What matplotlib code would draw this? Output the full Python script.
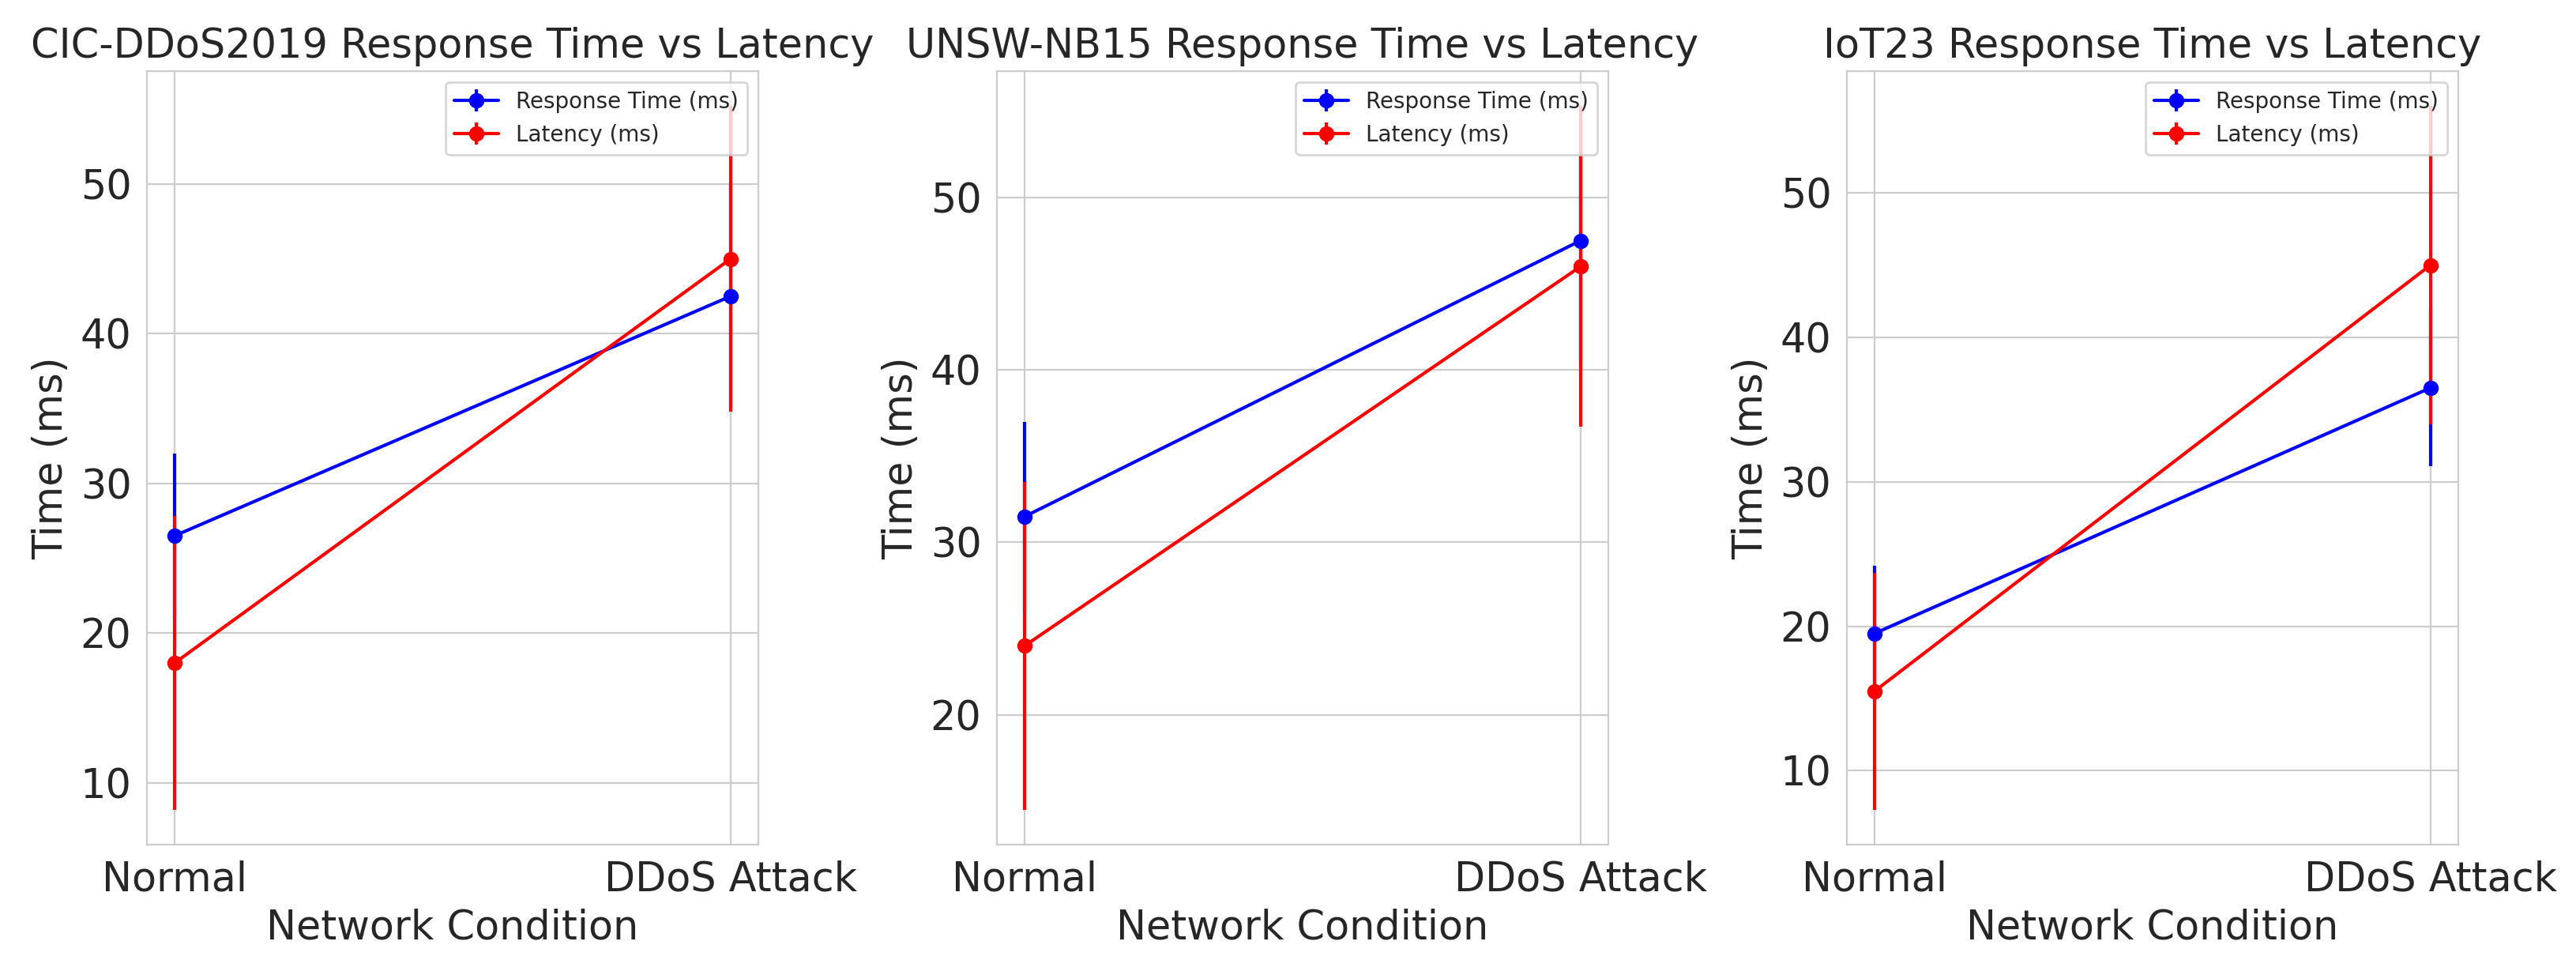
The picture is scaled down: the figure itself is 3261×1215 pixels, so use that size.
import matplotlib
matplotlib.use('Agg')
import matplotlib.pyplot as plt
from matplotlib.ticker import MultipleLocator
import seaborn as sns

# данные по трём наборам
conditions = ['Normal', 'DDoS Attack']
datasets = ['CIC-DDoS2019', 'UNSW-NB15', 'IoT23']

response_mean = [[26.5, 42.5], [31.5, 47.5], [19.5, 36.5]]
response_std = [[5.5, 7.5], [5.5, 7.0], [4.7, 5.4]]
latency_mean = [[18.0, 45.0], [24.0, 46.0], [15.5, 45.0]]
latency_std = [[9.8, 10.2], [9.5, 9.3], [8.2, 11.0]]

sns.set_style('whitegrid')
plt.rcParams['font.family'] = ['DejaVu Sans']

fig, axes = plt.subplots(1, 3, figsize=(16.31, 6.075), dpi=200)
plt.subplots_adjust(left=0.057, right=0.954, bottom=0.12, top=0.926, wspace=0.39)

for i, ax in enumerate(axes):
    x = list(range(len(conditions)))
    ax.errorbar(x, response_mean[i], yerr=response_std[i], fmt='-o', color='blue',
                label='Response Time (ms)', linewidth=1.5, markersize=6)
    ax.errorbar(x, latency_mean[i], yerr=latency_std[i], fmt='-o', color='red',
                label='Latency (ms)', linewidth=1.5, markersize=6)
    ax.set_xticks(x)
    ax.set_xticklabels(conditions, fontsize=18.3)
    ax.yaxis.set_major_locator(MultipleLocator(10))
    ax.tick_params(axis='y', labelsize=18.3)
    ax.set_xlabel('Network Condition', fontsize=18.3)
    ax.set_ylabel('Time (ms)', fontsize=18.3)
    ax.set_title(f'{datasets[i]} Response Time vs Latency', fontsize=18.3)
    ax.legend(loc='upper right', fontsize=10)

plt.savefig('out.png', dpi=200)
